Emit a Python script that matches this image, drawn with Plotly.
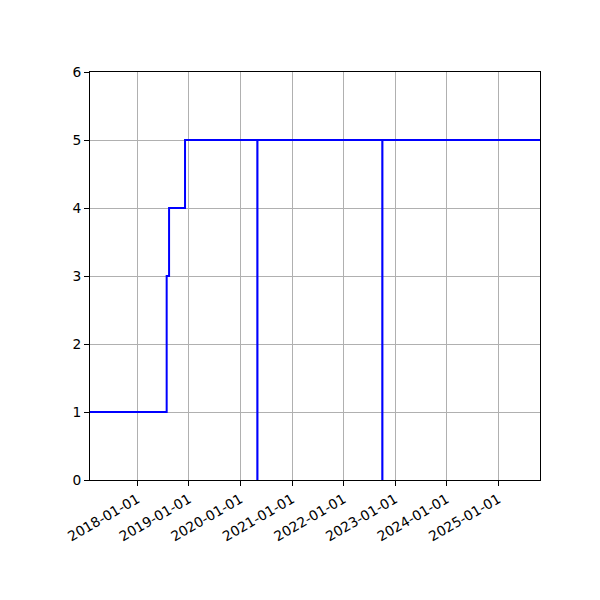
import plotly.graph_objects as go

dates = ['2017-01-31', '2018-07-28', '2018-08-14', '2018-12-05',
         '2020-04-30', '2020-05-01', '2022-10-02', '2022-10-03', '2025-10-23']
values = [1, 3, 4, 5, 0, 5, 0, 5, 5]

tick_dates = ['2018-01-01', '2019-01-01', '2020-01-01', '2021-01-01',
              '2022-01-01', '2023-01-01', '2024-01-01', '2025-01-01']
y_ticks = [0, 1, 2, 3, 4, 5, 6]

fig = go.Figure()
fig.add_trace(go.Scatter(x=dates, y=values, mode='lines',
                         line=dict(color='#0000ff', width=2, shape='hv'),
                         showlegend=False))

axis_common = dict(showline=True, linecolor='black', linewidth=1, mirror=True,
                   showgrid=True, gridcolor='#b0b0b0', gridwidth=1,
                   ticks='outside', ticklen=5, tickcolor='black', tickwidth=1,
                   zeroline=False,
                   tickfont=dict(family='DejaVu Sans', size=13.8, color='black'))

fig.update_layout(
    width=600, height=600,
    margin=dict(l=82, r=68, t=64, b=128),
    plot_bgcolor='white', paper_bgcolor='white',
    xaxis=dict(range=['2017-01-31', '2025-10-23'], tickvals=tick_dates,
               ticktext=tick_dates, tickangle=-30, **axis_common),
    yaxis=dict(range=[0, 6], tickvals=y_ticks, ticktext=[str(v) for v in y_ticks],
               **axis_common),
)

fig.write_html("out.html")
